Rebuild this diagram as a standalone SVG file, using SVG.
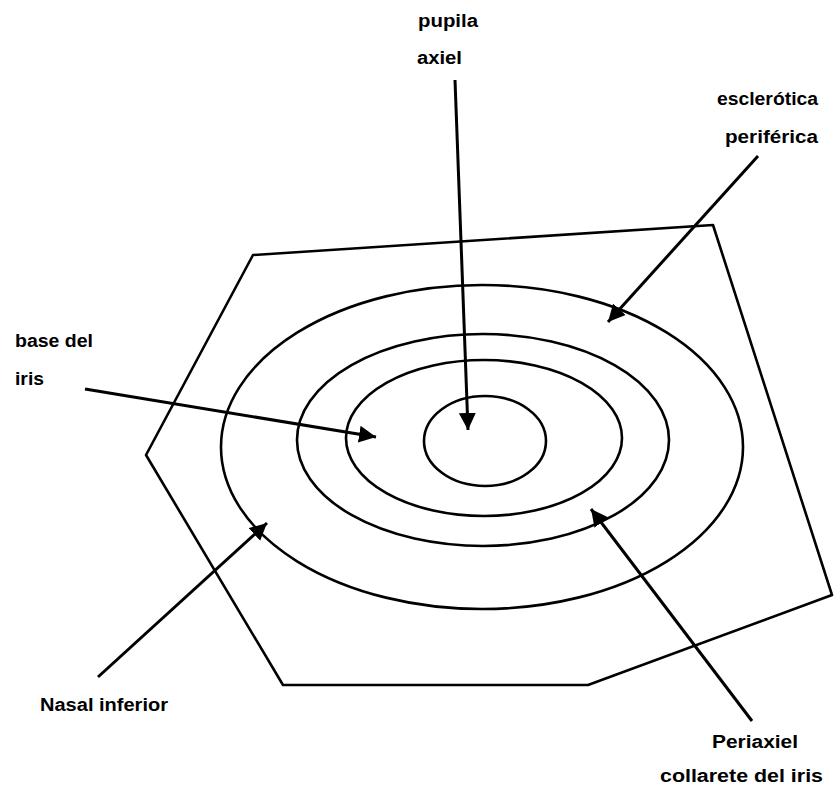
<svg xmlns="http://www.w3.org/2000/svg" width="836" height="799" viewBox="0 0 836 799">
<style>
.s{fill:none;stroke:#000;stroke-width:2.6;stroke-linejoin:round}
.c line{stroke:#000;stroke-width:3;fill:none}
text{font-family:"Liberation Sans",Arial,sans-serif;font-weight:bold;font-size:18px;fill:#000}
</style>
<defs>
<marker id="ah" markerUnits="userSpaceOnUse" markerWidth="18" markerHeight="18" refX="17" refY="8.5" orient="auto" viewBox="0 0 18 17">
<path d="M0,0 L17,8.5 L0,17 Z" fill="#000"/>
</marker>
</defs>
<rect width="836" height="799" fill="#fff"/>
<g id="contorno">
<polygon class="s" points="253,255 713,225 832,595 588,685 283,685 146,455"/>
</g>
<g id="esclerotica"><ellipse class="s" cx="482" cy="447" rx="261" ry="162"/></g>
<g id="collarete"><ellipse class="s" cx="483" cy="440" rx="186" ry="106"/></g>
<g id="base-iris"><ellipse class="s" cx="484" cy="438" rx="138" ry="78"/></g>
<g id="pupila"><ellipse class="s" cx="485" cy="441" rx="61" ry="45"/></g>
<g id="connectors" class="c">
<line x1="455" y1="80" x2="468" y2="430" marker-end="url(#ah)"/>
<line x1="758" y1="156" x2="608" y2="322" marker-end="url(#ah)"/>
<line x1="85" y1="389" x2="376" y2="437" marker-end="url(#ah)"/>
<line x1="98" y1="677" x2="267" y2="523" marker-end="url(#ah)"/>
<line x1="752" y1="721" x2="591" y2="509" marker-end="url(#ah)"/>
</g>
<g id="labels">
<text x="418" y="27" textLength="60" lengthAdjust="spacingAndGlyphs">pupila</text>
<text x="417" y="64" textLength="45" lengthAdjust="spacingAndGlyphs">axiel</text>
<text x="717" y="105" textLength="101" lengthAdjust="spacingAndGlyphs">esclerótica</text>
<text x="725" y="143" textLength="93" lengthAdjust="spacingAndGlyphs">periférica</text>
<text x="15" y="347" textLength="78" lengthAdjust="spacingAndGlyphs">base del</text>
<text x="15" y="385" textLength="29" lengthAdjust="spacingAndGlyphs">iris</text>
<text x="40" y="711" textLength="128" lengthAdjust="spacingAndGlyphs">Nasal inferior</text>
<text x="712" y="748" textLength="86" lengthAdjust="spacingAndGlyphs">Periaxiel</text>
<text x="660" y="782" textLength="163" lengthAdjust="spacingAndGlyphs">collarete del iris</text>
</g>
</svg>
